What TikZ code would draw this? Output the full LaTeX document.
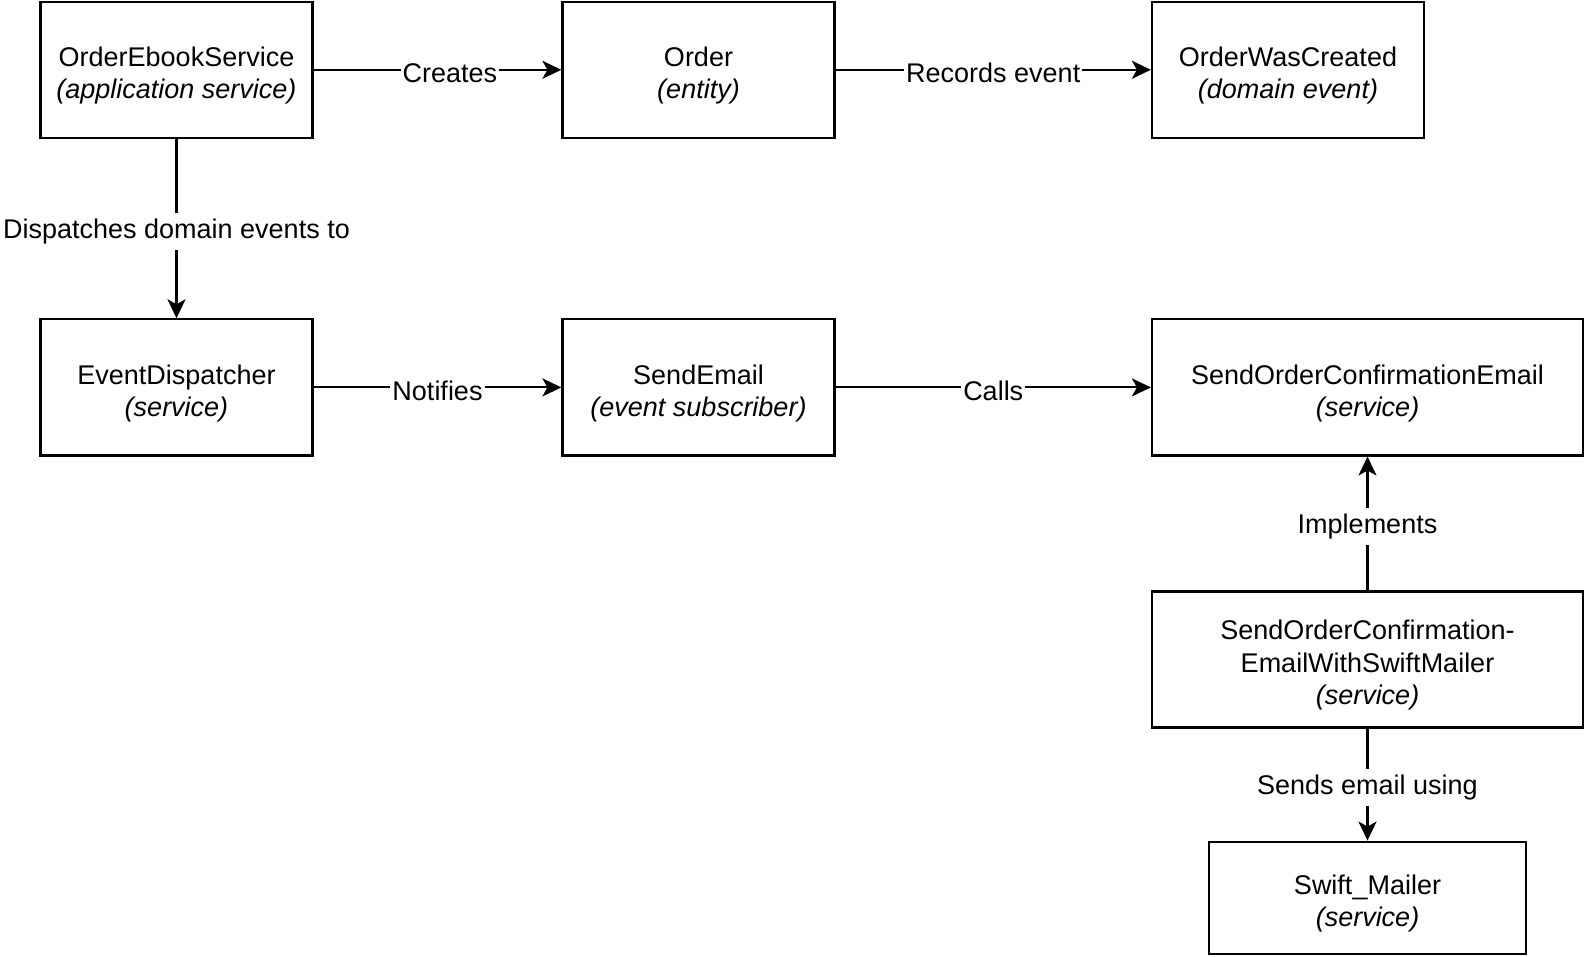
\documentclass[tikz,border=0pt]{standalone}
\usepackage{fontspec}
\setmainfont{Liberation Sans}
\usetikzlibrary{arrows.meta}
\usetikzlibrary{positioning}

\begin{document}
\begin{tikzpicture}[x=0.5pt, y=-0.5pt, line width=1.1pt, >={Stealth[length=9.5pt, width=9pt, inset=2.5pt]}]
    \tikzset{
        every node/.style={font=\fontsize{13.5}{16.2}\selectfont},
        box/.style={draw, rectangle, align=center, inner sep=0pt, text height=29pt, text depth=0pt, minimum width=136pt, minimum height=68pt},
        lbl/.style={midway, fill=white, inner sep=1pt, yshift=-1.5pt}
    }

    % Page size
    \useasboundingbox (0,0) rectangle (1586,957);

    % Constants
    \pgfmathsetmacro{\colA}{176.5}
    \pgfmathsetmacro{\colB}{698.5}
    \pgfmathsetmacro{\colC}{1288}
    \pgfmathsetmacro{\colD}{1367.5}
    \pgfmathsetmacro{\rowA}{69.8}
    \pgfmathsetmacro{\rowB}{387.4}
    \pgfmathsetmacro{\rowC}{659.5}
    \pgfmathsetmacro{\rowD}{897.7}

    % Top row
    \node [box] (ebook) at (\colA, \rowA) {OrderEbookService\\\textit{(application service)}};
    \node [box] (order) at (\colB, \rowA) {Order\\\textit{(entity)}};
    \node [box] (created) at (\colC, \rowA) {OrderWasCreated\\\textit{(domain event)}};

    % Second row
    \node [box] (dispatcher) at (\colA, \rowB) {EventDispatcher\\\textit{(service)}};
    \node [box] (sendemail) at (\colB, \rowB) {SendEmail\\\textit{(event subscriber)}};
    \node [box, minimum width=215.5pt] (confirm) at (\colD, \rowB) {SendOrderConfirmationEmail\\\textit{(service)}};

    % Implementation and mailer
    \node [box, minimum width=215.5pt, text height=45.2pt] (swiftconfirm) at (\colD, \rowC) {SendOrderConfirmation-\\EmailWithSwiftMailer\\\textit{(service)}};
    \node [box, minimum width=158.8pt, minimum height=56pt] (mailer) at (\colD, \rowD) {Swift\_Mailer\\\textit{(service)}};

    % Connections
    \draw [->] (ebook) -- node [lbl, pos=0.55] {Creates} (order);
    \draw [->] (order) -- node [lbl] {Records event} (created);
    \draw [->] (ebook) -- node [lbl, inner sep=3pt] {Dispatches domain events to} (dispatcher);
    \draw [->] (dispatcher) -- node [lbl] {Notifies} (sendemail);
    \draw [->] (sendemail) -- node [lbl] {Calls} (confirm);
    \draw [->] (swiftconfirm) -- node [lbl, inner sep=3pt] {Implements} (confirm);
    \draw [->] (swiftconfirm) -- node [lbl, inner sep=3pt] {Sends email using} (mailer);

\end{tikzpicture}
\end{document}
